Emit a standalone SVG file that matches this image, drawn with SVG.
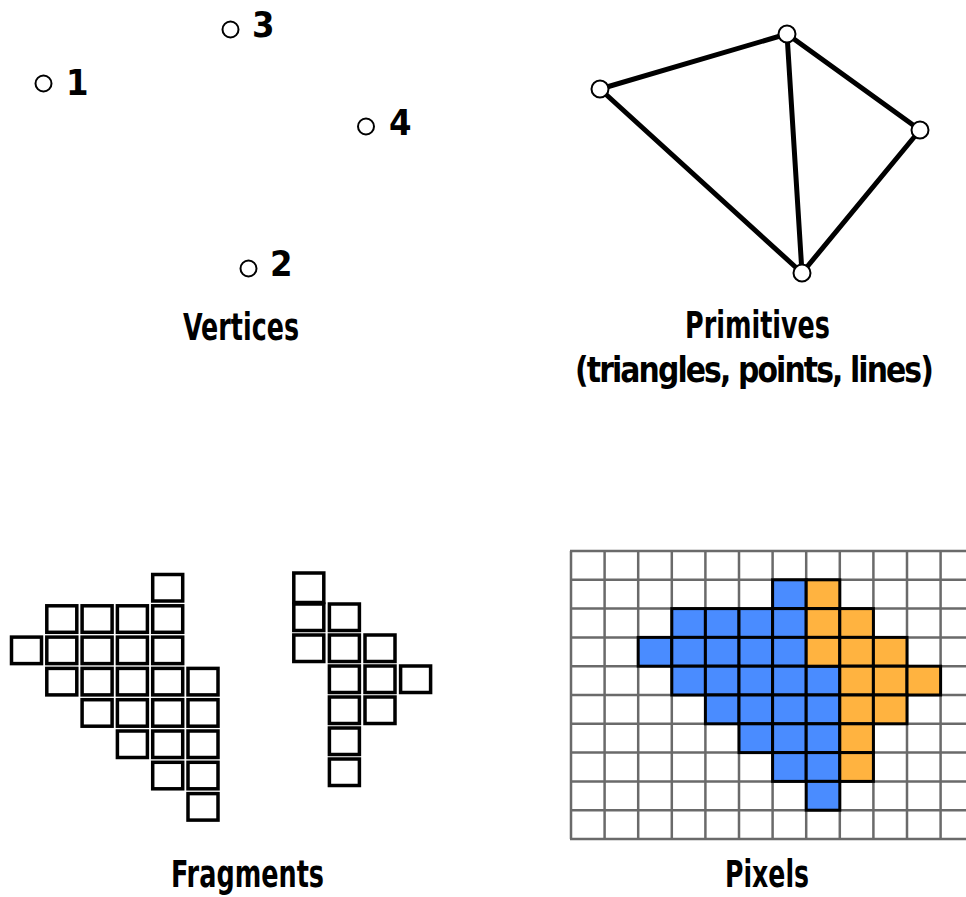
<svg xmlns="http://www.w3.org/2000/svg" width="966" height="897" viewBox="0 0 966 897">
<style>
.lbl{font-family:"Liberation Sans Narrow","DejaVu Sans Condensed","Liberation Sans",sans-serif;font-weight:bold;fill:#000;font-size:37px;text-anchor:middle}
.sub{font-size:35px;letter-spacing:-2px}
.num{font-family:"Liberation Sans Narrow","DejaVu Sans Condensed","Liberation Sans",sans-serif;font-weight:bold;fill:#000;font-size:36px}
.vtx{fill:#fff;stroke:#000;stroke-width:2}
.edge{stroke:#000;stroke-width:5;stroke-linecap:round}
.frag{fill:#fff;stroke:#000;stroke-width:3.5}
.grid{stroke:#6a6a6a;stroke-width:2.5}
.b{fill:#4a8cff;stroke:#000;stroke-width:3}
.o{fill:#ffb340;stroke:#000;stroke-width:3}
</style>
<rect width="966" height="897" fill="#fff"/>

<g id="vertices">
  <circle class="vtx" cx="43.5" cy="83.5" r="8"/>
  <text class="num" x="66" y="95">1</text>
  <circle class="vtx" cx="230.5" cy="29.5" r="8"/>
  <text class="num" x="252" y="37">3</text>
  <circle class="vtx" cx="366" cy="126.5" r="8"/>
  <text class="num" x="389" y="135">4</text>
  <circle class="vtx" cx="248.5" cy="268.5" r="8"/>
  <text class="num" x="270" y="276">2</text>
  <text class="lbl" x="241" y="340" textLength="116" lengthAdjust="spacingAndGlyphs">Vertices</text>
</g>

<g id="primitives">
  <g id="edges">
    <line class="edge" x1="600" y1="89" x2="787" y2="34"/>
    <line class="edge" x1="600" y1="89" x2="802" y2="273"/>
    <line class="edge" x1="787" y1="34" x2="802" y2="273"/>
    <line class="edge" x1="787" y1="34" x2="920" y2="130"/>
    <line class="edge" x1="920" y1="130" x2="802" y2="273"/>
  </g>
  <circle class="vtx" cx="600" cy="89" r="8.5"/>
  <circle class="vtx" cx="787" cy="34" r="8.5"/>
  <circle class="vtx" cx="920" cy="130" r="8.5"/>
  <circle class="vtx" cx="802" cy="273" r="8.5"/>
  <text class="lbl" x="757.5" y="338" textLength="145" lengthAdjust="spacingAndGlyphs">Primitives</text>
  <text class="lbl sub" x="753.5" y="382" textLength="357" lengthAdjust="spacingAndGlyphs">(triangles, points, lines)</text>
</g>

<g id="fragments">
  <g id="frag-a">
    <rect class="frag" x="152.7" y="574.5" width="30" height="26.5"/>
    <rect class="frag" x="46.8" y="605.8" width="30" height="26.5"/>
    <rect class="frag" x="82.1" y="605.8" width="30" height="26.5"/>
    <rect class="frag" x="117.4" y="605.8" width="30" height="26.5"/>
    <rect class="frag" x="152.7" y="605.8" width="30" height="26.5"/>
    <rect class="frag" x="11.5" y="637.1" width="30" height="26.5"/>
    <rect class="frag" x="46.8" y="637.1" width="30" height="26.5"/>
    <rect class="frag" x="82.1" y="637.1" width="30" height="26.5"/>
    <rect class="frag" x="117.4" y="637.1" width="30" height="26.5"/>
    <rect class="frag" x="152.7" y="637.1" width="30" height="26.5"/>
    <rect class="frag" x="46.8" y="668.4" width="30" height="26.5"/>
    <rect class="frag" x="82.1" y="668.4" width="30" height="26.5"/>
    <rect class="frag" x="117.4" y="668.4" width="30" height="26.5"/>
    <rect class="frag" x="152.7" y="668.4" width="30" height="26.5"/>
    <rect class="frag" x="188" y="668.4" width="30" height="26.5"/>
    <rect class="frag" x="82.1" y="699.7" width="30" height="26.5"/>
    <rect class="frag" x="117.4" y="699.7" width="30" height="26.5"/>
    <rect class="frag" x="152.7" y="699.7" width="30" height="26.5"/>
    <rect class="frag" x="188" y="699.7" width="30" height="26.5"/>
    <rect class="frag" x="117.4" y="731" width="30" height="26.5"/>
    <rect class="frag" x="152.7" y="731" width="30" height="26.5"/>
    <rect class="frag" x="188" y="731" width="30" height="26.5"/>
    <rect class="frag" x="152.7" y="762.3" width="30" height="26.5"/>
    <rect class="frag" x="188" y="762.3" width="30" height="26.5"/>
    <rect class="frag" x="188" y="793.6" width="30" height="26.5"/>
  </g>
  <g id="frag-b">
    <rect class="frag" x="293.8" y="573" width="30" height="29.5"/>
    <rect class="frag" x="293.8" y="604" width="30" height="26.5"/>
    <rect class="frag" x="329.4" y="604" width="30" height="26.5"/>
    <rect class="frag" x="293.8" y="635" width="30" height="26.5"/>
    <rect class="frag" x="329.4" y="635" width="30" height="26.5"/>
    <rect class="frag" x="365" y="635" width="30" height="26.5"/>
    <rect class="frag" x="329.4" y="666" width="30" height="26.5"/>
    <rect class="frag" x="365" y="666" width="30" height="26.5"/>
    <rect class="frag" x="400.6" y="666" width="30" height="26.5"/>
    <rect class="frag" x="329.4" y="697" width="30" height="26.5"/>
    <rect class="frag" x="365" y="697" width="30" height="26.5"/>
    <rect class="frag" x="329.4" y="728" width="30" height="26.5"/>
    <rect class="frag" x="329.4" y="759" width="30" height="26.5"/>
  </g>
  <text class="lbl" x="247.5" y="887" textLength="153" lengthAdjust="spacingAndGlyphs">Fragments</text>
</g>

<g id="pixels">
  <g id="grid">
    <line class="grid" x1="571" y1="551" x2="571" y2="839"/>
    <line class="grid" x1="604.6" y1="551" x2="604.6" y2="839"/>
    <line class="grid" x1="638.2" y1="551" x2="638.2" y2="839"/>
    <line class="grid" x1="671.8" y1="551" x2="671.8" y2="839"/>
    <line class="grid" x1="705.4" y1="551" x2="705.4" y2="839"/>
    <line class="grid" x1="739" y1="551" x2="739" y2="839"/>
    <line class="grid" x1="772.6" y1="551" x2="772.6" y2="839"/>
    <line class="grid" x1="806.2" y1="551" x2="806.2" y2="839"/>
    <line class="grid" x1="839.8" y1="551" x2="839.8" y2="839"/>
    <line class="grid" x1="873.4" y1="551" x2="873.4" y2="839"/>
    <line class="grid" x1="907" y1="551" x2="907" y2="839"/>
    <line class="grid" x1="940.6" y1="551" x2="940.6" y2="839"/>
    <line class="grid" x1="570" y1="551" x2="966" y2="551"/>
    <line class="grid" x1="570" y1="579.8" x2="966" y2="579.8"/>
    <line class="grid" x1="570" y1="608.6" x2="966" y2="608.6"/>
    <line class="grid" x1="570" y1="637.4" x2="966" y2="637.4"/>
    <line class="grid" x1="570" y1="666.2" x2="966" y2="666.2"/>
    <line class="grid" x1="570" y1="695" x2="966" y2="695"/>
    <line class="grid" x1="570" y1="723.8" x2="966" y2="723.8"/>
    <line class="grid" x1="570" y1="752.6" x2="966" y2="752.6"/>
    <line class="grid" x1="570" y1="781.4" x2="966" y2="781.4"/>
    <line class="grid" x1="570" y1="810.2" x2="966" y2="810.2"/>
    <line class="grid" x1="570" y1="839" x2="966" y2="839"/>
  </g>
  <g id="blue-cells">
    <rect class="b" x="772.6" y="579.8" width="33.6" height="28.8"/>
    <rect class="b" x="671.8" y="608.6" width="33.6" height="28.8"/>
    <rect class="b" x="705.4" y="608.6" width="33.6" height="28.8"/>
    <rect class="b" x="739" y="608.6" width="33.6" height="28.8"/>
    <rect class="b" x="772.6" y="608.6" width="33.6" height="28.8"/>
    <rect class="b" x="638.2" y="637.4" width="33.6" height="28.8"/>
    <rect class="b" x="671.8" y="637.4" width="33.6" height="28.8"/>
    <rect class="b" x="705.4" y="637.4" width="33.6" height="28.8"/>
    <rect class="b" x="739" y="637.4" width="33.6" height="28.8"/>
    <rect class="b" x="772.6" y="637.4" width="33.6" height="28.8"/>
    <rect class="b" x="671.8" y="666.2" width="33.6" height="28.8"/>
    <rect class="b" x="705.4" y="666.2" width="33.6" height="28.8"/>
    <rect class="b" x="739" y="666.2" width="33.6" height="28.8"/>
    <rect class="b" x="772.6" y="666.2" width="33.6" height="28.8"/>
    <rect class="b" x="806.2" y="666.2" width="33.6" height="28.8"/>
    <rect class="b" x="705.4" y="695" width="33.6" height="28.8"/>
    <rect class="b" x="739" y="695" width="33.6" height="28.8"/>
    <rect class="b" x="772.6" y="695" width="33.6" height="28.8"/>
    <rect class="b" x="806.2" y="695" width="33.6" height="28.8"/>
    <rect class="b" x="739" y="723.8" width="33.6" height="28.8"/>
    <rect class="b" x="772.6" y="723.8" width="33.6" height="28.8"/>
    <rect class="b" x="806.2" y="723.8" width="33.6" height="28.8"/>
    <rect class="b" x="772.6" y="752.6" width="33.6" height="28.8"/>
    <rect class="b" x="806.2" y="752.6" width="33.6" height="28.8"/>
    <rect class="b" x="806.2" y="781.4" width="33.6" height="28.8"/>
  </g>
  <g id="orange-cells">
    <rect class="o" x="806.2" y="579.8" width="33.6" height="28.8"/>
    <rect class="o" x="806.2" y="608.6" width="33.6" height="28.8"/>
    <rect class="o" x="839.8" y="608.6" width="33.6" height="28.8"/>
    <rect class="o" x="806.2" y="637.4" width="33.6" height="28.8"/>
    <rect class="o" x="839.8" y="637.4" width="33.6" height="28.8"/>
    <rect class="o" x="873.4" y="637.4" width="33.6" height="28.8"/>
    <rect class="o" x="839.8" y="666.2" width="33.6" height="28.8"/>
    <rect class="o" x="873.4" y="666.2" width="33.6" height="28.8"/>
    <rect class="o" x="907" y="666.2" width="33.6" height="28.8"/>
    <rect class="o" x="839.8" y="695" width="33.6" height="28.8"/>
    <rect class="o" x="873.4" y="695" width="33.6" height="28.8"/>
    <rect class="o" x="839.8" y="723.8" width="33.6" height="28.8"/>
    <rect class="o" x="839.8" y="752.6" width="33.6" height="28.8"/>
  </g>
  <text class="lbl" x="767" y="887" textLength="84" lengthAdjust="spacingAndGlyphs">Pixels</text>
</g>
</svg>
